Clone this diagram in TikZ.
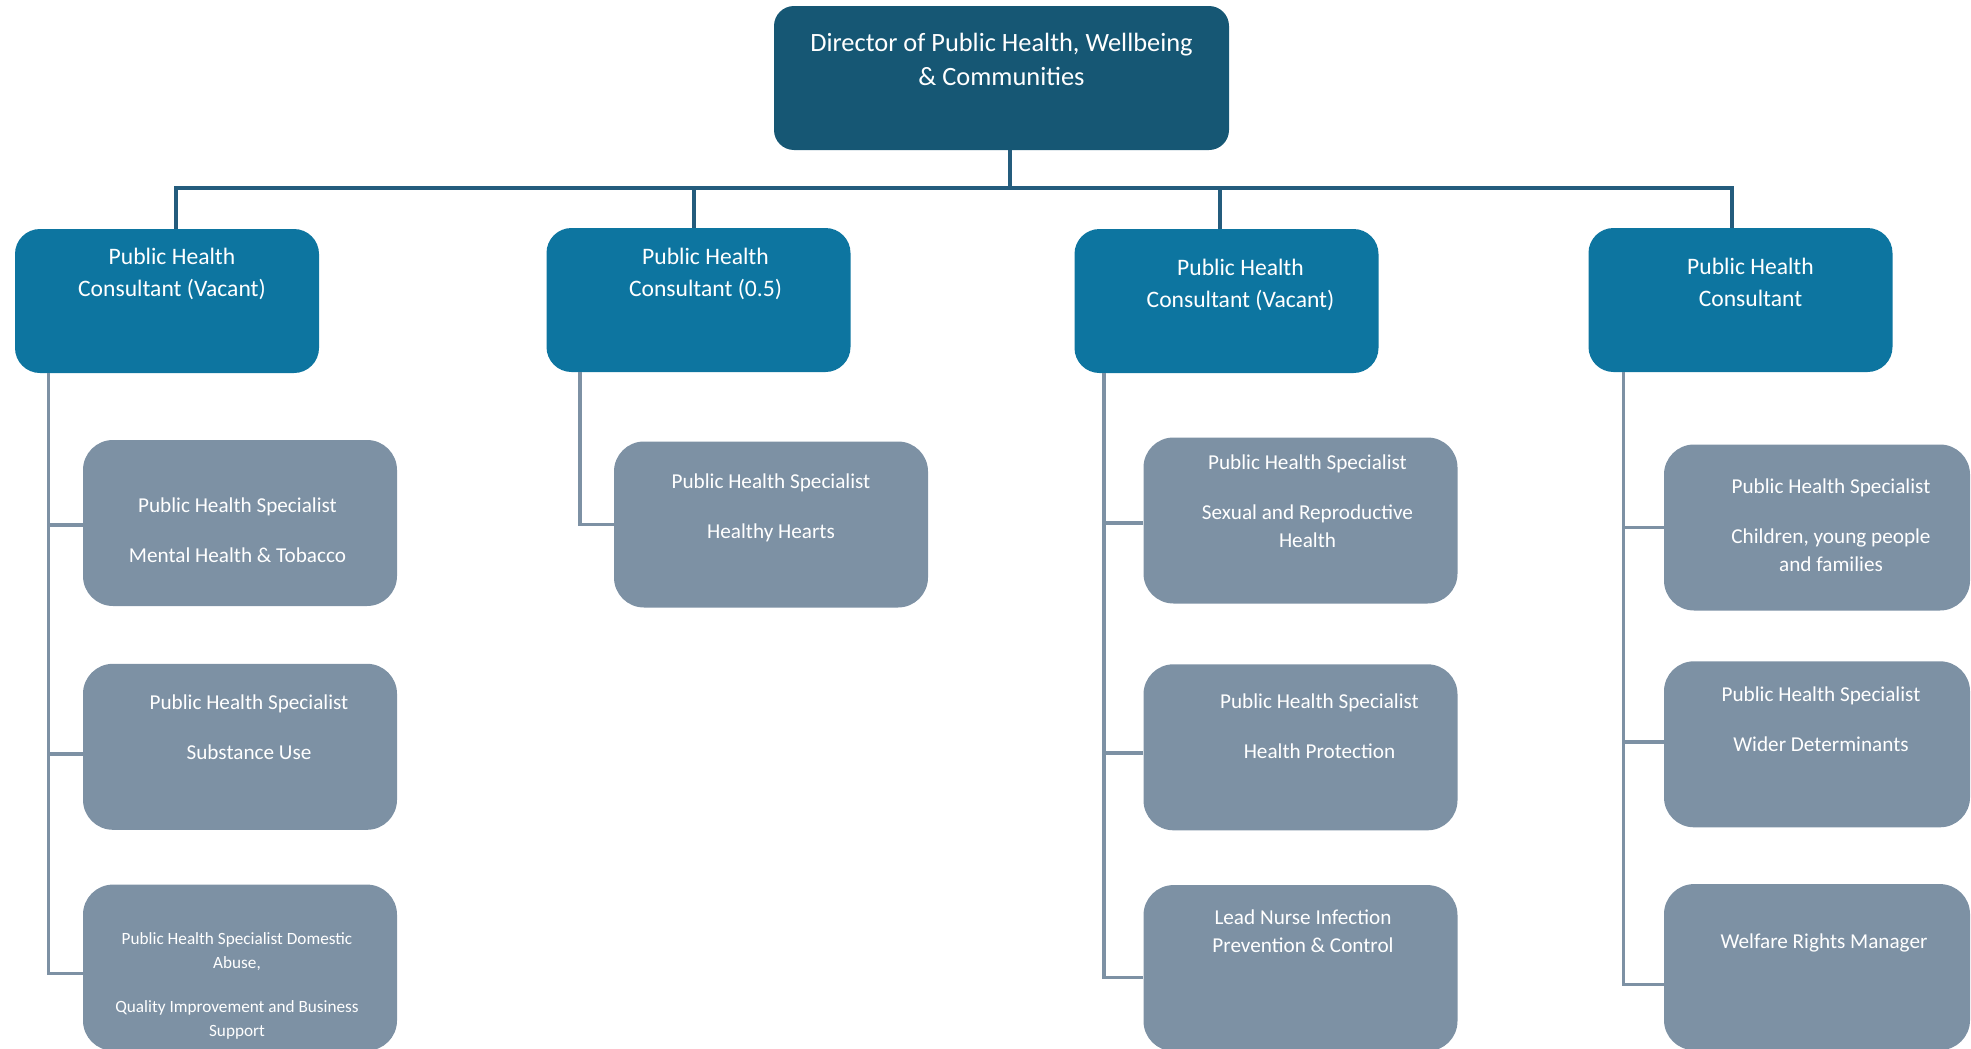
\documentclass[tikz,border=0pt]{standalone}
\usepackage{fontspec}
\setmainfont{Carlito}
\usetikzlibrary{positioning}

\definecolor{dirblue}{RGB}{22,87,116}
\definecolor{conblue}{RGB}{13,117,160}
\definecolor{specgrey}{RGB}{125,145,164}
\definecolor{linkblue}{RGB}{36,92,125}

% box text: height, width, top gap, x shift, lines
\newcommand{\boxtext}[5]{\parbox[t][#1][t]{#2}{\vspace*{#3}\noindent\rlap{\hspace*{#4}\parbox[t]{#2}{\centering #5}}}}
\newcommand{\dirfont}{\fontsize{13.2}{17}\selectfont}
\newcommand{\confont}{\fontsize{11.8}{16}\selectfont}
\newcommand{\specfont}{\fontsize{10.6}{14}\selectfont}
\newcommand{\smallspecfont}{\fontsize{8.6}{12}\selectfont}

\begin{document}
\begin{tikzpicture}[x=0.5pt, y=-0.5pt, node distance=28pt]
\tikzstyle{director}=[rectangle, rounded corners=10pt, fill=dirblue, text=white, inner sep=0pt]
\tikzstyle{consultant}=[rectangle, rounded corners=12.5pt, fill=conblue, text=white, inner sep=0pt]
\tikzstyle{specialist}=[rectangle, rounded corners=15pt, fill=specgrey, text=white, inner sep=0pt]
\tikzstyle{topline}=[draw=linkblue, line width=2pt]
\tikzstyle{subline}=[draw=specgrey, line width=1.7pt]
\useasboundingbox (0,0) rectangle (1971,1049);

\node[director]   (dph) at (1001.5,78)  {\boxtext{72pt}{227.5pt}{13.7pt}{0pt}{\dirfont Director of Public Health, Wellbeing\\ \& Communities}};

\node[consultant] (c1)  at (167,301)    {\boxtext{72pt}{152pt}{9.8pt}{2.5pt}{\confont Public Health\\ Consultant (Vacant)}};
\node[consultant] (c2)  at (698.5,300)  {\boxtext{72pt}{152pt}{10.3pt}{3.5pt}{\confont Public Health\\ Consultant (0.5)}};
\node[consultant] (c3)  at (1226.5,301) {\boxtext{72pt}{152pt}{15pt}{7pt}{\confont Public Health\\ Consultant (Vacant)}};
\node[consultant] (c4)  at (1740.5,300) {\boxtext{72pt}{152pt}{15pt}{5pt}{\confont Public Health\\ Consultant}};

% column 1
\node[specialist] (s11) at (240,523)    {\boxtext{83pt}{157pt}{28.7pt}{-1.25pt}{\specfont Public Health Specialist\\[11pt] Mental Health \& Tobacco}};
\node[specialist] (s12) [below=28.5pt of s11] {\boxtext{83pt}{157pt}{15.7pt}{4.5pt}{\specfont Public Health Specialist\\[11pt] Substance Use}};
\node[specialist] (s13) [below=27pt of s12]   {\boxtext{83pt}{157pt}{23.9pt}{-1.5pt}{\smallspecfont Public Health Specialist Domestic\\ Abuse,\\[10pt] Quality Improvement and Business\\ Support}};

% column 2
\node[specialist] (s21) at (771,524.5)  {\boxtext{83pt}{157pt}{16.2pt}{0pt}{\specfont Public Health Specialist\\[11pt] Healthy Hearts}};

% column 3
\node[specialist] (s31) at (1300.5,520.5) {\boxtext{83pt}{157pt}{8.7pt}{3.5pt}{\specfont Public Health Specialist\\[11pt] Sexual and Reproductive\\ Health}};
\node[specialist] (s32) [below=30pt of s31] {\boxtext{83pt}{157pt}{14.7pt}{9.5pt}{\specfont Public Health Specialist\\[11pt] Health Protection}};
\node[specialist] (s33) [below=27pt of s32] {\boxtext{83pt}{157pt}{12.2pt}{1.25pt}{\specfont Lead Nurse Infection\\ Prevention \& Control}};

% column 4
\node[specialist] (s41) at (1817,527.5) {\boxtext{83pt}{153pt}{17.2pt}{7pt}{\specfont Public Health Specialist\\[11pt] Children, young people\\ and families}};
\node[specialist] (s42) [below=25pt of s41] {\boxtext{83pt}{153pt}{12.7pt}{2pt}{\specfont Public Health Specialist\\[11pt] Wider Determinants}};
\node[specialist] (s43) [below=28pt of s42] {\boxtext{83pt}{153pt}{24.7pt}{3.5pt}{\specfont Welfare Rights Manager}};

% director to consultants
\draw[topline] ([xshift=4.25pt]dph.south) -- ++(0,38);
\draw[topline] ([xshift=4.5pt]c1.north) -- ++(0,-41) -| ([xshift=-4.25pt]c4.north);
\draw[topline] ([xshift=-2.25pt]c2.north) -- ++(0,-40);
\draw[topline] ([xshift=-3.5pt]c3.north) -- ++(0,-41);

% consultants to specialists
\draw[subline] ([xshift=17pt]c1.south west) |- ([yshift=-3pt]s13.west);
\draw[subline] ([yshift=-1pt]s11.west) -- ++(-34,0);
\draw[subline] ([yshift=-3.5pt]s12.west) -- ++(-34,0);

\draw[subline] ([xshift=17pt]c2.south west) |- (s21.west);

\draw[subline] ([xshift=15pt]c3.south west) |- ([yshift=-4.75pt]s33.west);
\draw[subline] ([yshift=-1.25pt]s31.west) -- ++(-40,0);
\draw[subline] ([yshift=-2.75pt]s32.west) -- ++(-40,0);

\draw[subline] ([xshift=17.75pt]c4.south west) |- ([yshift=-8.75pt]s43.west);
\draw[subline] (s41.west) -- ++(-40,0);
\draw[subline] ([yshift=1.25pt]s42.west) -- ++(-40,0);
\end{tikzpicture}
\end{document}
